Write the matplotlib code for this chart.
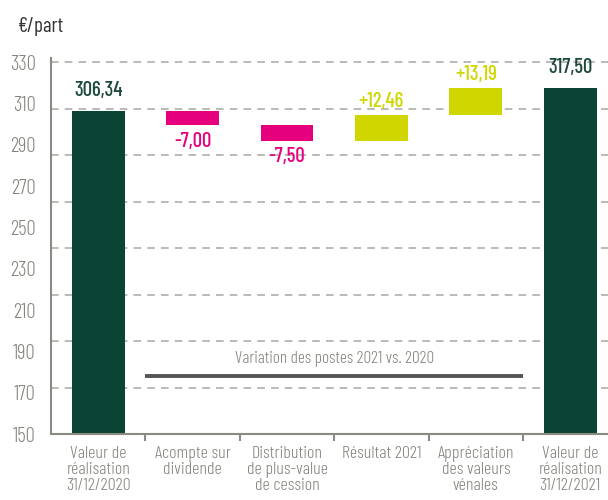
import matplotlib.pyplot as plt
import numpy as np

# Waterfall data (EUR per share)
categories = ["Valeur de\nréalisation\n31/12/2020", "Acompte sur\ndividende",
              "Distribution\nde plus-value\nde cession", "Résultat 2021",
              "Appréciation\ndes valeurs\nvénales", "Valeur de\nréalisation\n31/12/2021"]
start_value = 306.34
changes = [-7.00, -7.50, 12.46, 13.19]
end_value = 317.50
value_labels = ["306,34", "-7,00", "-7,50", "+12,46", "+13,19", "317,50"]
y_ticks = list(range(150, 331, 20))

GREEN = '#0a4434'
MAGENTA = '#e5007d'
LIME = '#cfd600'
GRAY = '#8a8a82'
TEXT_GRAY = '#85857d'

plt.rcParams['font.family'] = ['Barlow Condensed', 'Roboto Condensed', 'DejaVu Sans']

fig = plt.figure(figsize=(6.08, 5.0), dpi=100)
ax = fig.add_axes([0.084, 0.132, 0.916, 0.752])

ymin = 150
x = np.arange(len(categories))
width = 0.56

# totals
ax.bar(x[0], start_value - ymin, bottom=ymin, width=width, color=GREEN)
ax.bar(x[-1], end_value - ymin, bottom=ymin, width=width, color=GREEN)

# floating steps
level = start_value
tops, bottoms, colors = [], [], []
for i, c in enumerate(changes):
    lo, hi = (level + c, level) if c < 0 else (level, level + c)
    col = MAGENTA if c < 0 else LIME
    ax.bar(x[i + 1], hi - lo, bottom=lo, width=width, color=col)
    tops.append(hi)
    bottoms.append(lo)
    colors.append(col)
    level += c

lbl = dict(fontsize=15, fontweight=500)
ax.text(x[0], start_value + 5.5, value_labels[0], ha='center', va='bottom',
        color='#1d4a3b', **lbl)
ax.text(x[-1], end_value + 5.5, value_labels[-1], ha='center', va='bottom',
        color='#1d4a3b', **lbl)
for i, c in enumerate(changes):
    if c < 0:
        ax.text(x[i + 1], bottoms[i] - 3.0, value_labels[i + 1], ha='center', va='top',
                color=colors[i], **lbl)
    else:
        ax.text(x[i + 1], tops[i] + 2.0, value_labels[i + 1], ha='center', va='bottom',
                color=colors[i], **lbl)

# dashed grid (drawn on its own spacing, as in the source)
for g in np.arange(172.5, 331, 22.5):
    ax.axhline(g, color='#a8a8a2', linestyle=(0, (5, 4)), linewidth=1.1, zorder=0)

# bracket annotation
ax.plot([0.5, 4.5], [178, 178], color='#555555', linewidth=2.8, solid_capstyle='butt')
ax.text(2.5, 182.5, "Variation des postes 2021 vs. 2020", ha='center', va='bottom',
        fontsize=12.5, fontweight=300, color=TEXT_GRAY)

ax.set_ylim(150, 332)
ax.set_xlim(-0.5, 5.4)
ax.set_yticks(y_ticks)
ax.set_yticklabels([str(t) for t in y_ticks], fontsize=15, fontweight=300, color=TEXT_GRAY)
ax.tick_params(axis='y', which='major', length=0, pad=11)
ax.set_yticks([150], minor=True)
ax.tick_params(axis='y', which='minor', length=6, width=1.5, color=GRAY)

ax.set_xticks(x)
ax.set_xticklabels(categories, fontsize=13, fontweight=300, color=TEXT_GRAY,
                   linespacing=1.0, va='top')
ax.set_xticks(np.arange(0.5, 5, 1), minor=True)
ax.tick_params(axis='x', which='major', length=0, pad=9)
ax.tick_params(axis='x', which='minor', length=5, width=1.5, color=GRAY, direction='out')

for s in ['top', 'right']:
    ax.spines[s].set_visible(False)
for s in ['left', 'bottom']:
    ax.spines[s].set_color(GRAY)
    ax.spines[s].set_linewidth(1.5)

fig.text(0.03, 0.948, "€/part", fontsize=15, fontweight=400, color='#333333',
         va='center', ha='left')

fig.savefig('out.png', dpi=100)
